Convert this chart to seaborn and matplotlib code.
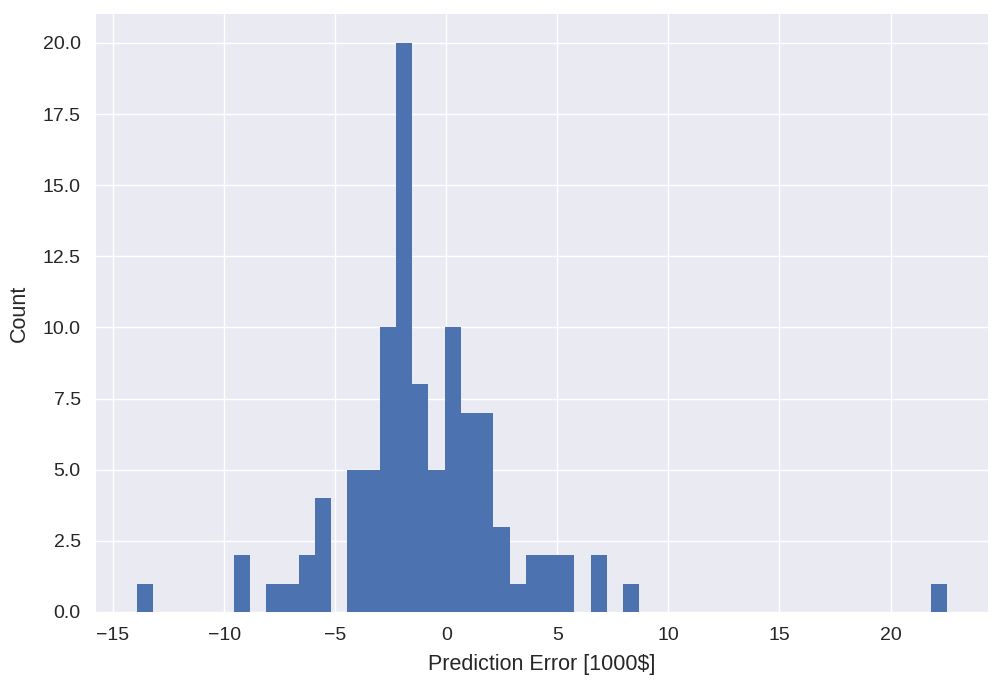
import numpy as np
import pandas as pd
import matplotlib
matplotlib.use("Agg")
import matplotlib.pyplot as plt
import seaborn as sns

# histogram of prediction errors, 50 bins
bin_lo = -13.94
bin_hi = 22.56
counts = [1, 0, 0, 0, 0, 0, 2, 0, 1, 1,
          2, 4, 0, 5, 5, 10, 20, 8, 5, 10,
          7, 7, 3, 1, 2, 2, 2, 0, 2, 0,
          1, 0, 0, 0, 0, 0, 0, 0, 0, 0,
          0, 0, 0, 0, 0, 0, 0, 0, 0, 1]

width = (bin_hi - bin_lo) / len(counts)
df = pd.DataFrame({"error": bin_lo + width * (np.arange(len(counts)) + 0.5),
                   "n": counts})

plt.style.use("seaborn-v0_8")
plt.rcParams['font.family'] = ['Liberation Sans', 'DejaVu Sans']

fig = plt.figure(figsize=(10.02, 6.8), dpi=100)
ax = fig.add_axes([0.0958, 0.1, 0.8902, 0.8787])
sns.histplot(data=df, x="error", weights="n", bins=len(counts),
             binrange=(bin_lo, bin_hi), ax=ax,
             color="#4C72B0", alpha=1, linewidth=0)
ax.margins(x=0.05)
ax.set_ylim(0, 21)
ax.set_xlabel(r"Prediction Error [1000\$]", fontsize=15.5, color="#262626",
              labelpad=7)
ax.set_ylabel("Count", fontsize=15.5, color="#262626", labelpad=9)
ax.tick_params(axis="x", labelsize=14, colors="#262626", pad=11)
ax.tick_params(axis="y", labelsize=14, colors="#262626", pad=11)

fig.savefig("out.png", dpi=100)
